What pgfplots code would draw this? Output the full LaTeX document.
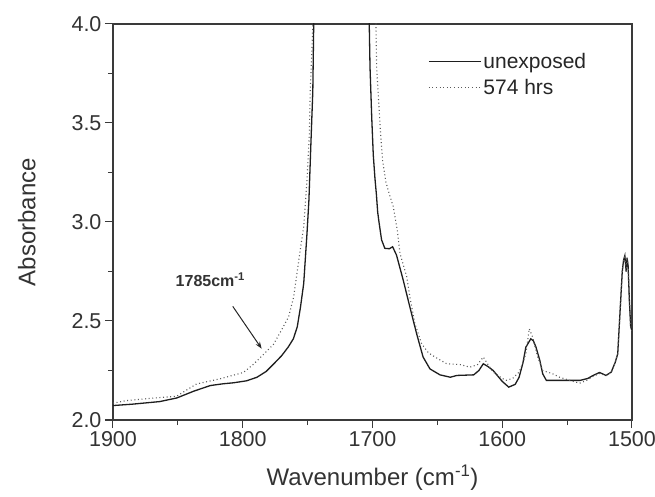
\documentclass[border=0pt]{standalone}
\usepackage{pgfplots}
\pgfplotsset{compat=1.18}
\usepackage{fontspec}
\setmainfont{Liberation Sans}
\usetikzlibrary{arrows.meta}

\definecolor{inkline}{HTML}{1E1E1E}
\definecolor{dotline}{HTML}{5A5A5A}
\definecolor{axisgray}{HTML}{3A3A3A}

\begin{document}
\begin{tikzpicture}
\begin{axis}[
  at={(0pt,0pt)}, anchor=south west,
  scale only axis, width=519pt, height=396pt,
  x dir=reverse,
  xmin=1500, xmax=1900, ymin=2, ymax=4,
  xtick={1500,1600,1700,1800,1900},
  ytick={2,2.5,3,3.5,4},
  minor x tick num=1, minor y tick num=1,
  tick align=outside, xtick pos=bottom, ytick pos=left,
  major tick length=8pt, minor tick length=5pt,
  axis line style={axisgray, line width=1.2pt},
  every tick/.style={axisgray, line width=1pt},
  clip=true,
  /pgf/number format/assume math mode=true,
  tick label style={font=\fontsize{21.5}{25}\selectfont, text=black!80},
  xticklabel style={/pgf/number format/1000 sep={}},
  yticklabel style={/pgf/number format/.cd, fixed, fixed zerofill, precision=1},
  xlabel={Wavenumber (cm\textsuperscript{-1})},
  ylabel={Absorbance},
  label style={font=\fontsize{24}{28}\selectfont, text=black!80},
  xlabel style={at={(axis description cs:0.5,-0.146)}, anchor=center},
  ylabel style={at={(axis description cs:-0.166,0.5)}, anchor=center},
  legend style={at={(0.601,0.937)}, anchor=north west, draw=none, fill=none,
    font=\fontsize{21}{23}\selectfont, text=black!85, row sep=5.5pt,
    /tikz/every even column/.append style={column sep=3pt}},
  legend cell align=left,
  legend image code/.code={\draw[#1] (0pt,0pt) -- (52pt,0pt);},
]

% unexposed film
\addplot[inkline, line width=1.3pt] coordinates {
(1900,2.073) (1885,2.080) (1864,2.093) (1851,2.111) (1838,2.145)
(1825,2.174) (1815,2.183) (1807,2.188) (1797,2.198) (1789,2.216)
(1782,2.245) (1776,2.284) (1770,2.325) (1765,2.368) (1761,2.41)
(1758,2.47) (1755.5,2.57) (1753,2.69) (1750.5,2.94) (1749,3.11)
(1747.5,3.39) (1746,3.66) (1745.3,4.0) (1745,4.3) (1703,4.3)
(1702.5,4.0) (1701.9,3.78) (1700.6,3.53) (1699.4,3.34) (1698.1,3.22)
(1697,3.14) (1696,3.05) (1695,3.0) (1693,2.91) (1690.5,2.867)
(1687,2.865) (1684.5,2.875) (1681.5,2.833) (1676.3,2.706) (1671.2,2.571)
(1666,2.436) (1661,2.318) (1655.7,2.258) (1648,2.228) (1640,2.216)
(1635,2.225) (1622,2.228) (1618,2.25) (1614.6,2.284) (1611,2.27)
(1607,2.25) (1600,2.195) (1595,2.166) (1590,2.18) (1587,2.216)
(1584,2.29) (1581.8,2.368) (1578,2.41) (1576,2.40) (1574,2.368)
(1571,2.30) (1568.8,2.233) (1566,2.2) (1555,2.2) (1540,2.2)
(1534,2.21) (1530,2.225) (1525,2.24) (1520,2.225) (1516,2.242)
(1513,2.29) (1511,2.334) (1509,2.571) (1507.5,2.75) (1506.5,2.807)
(1505.5,2.83) (1504.5,2.75) (1503.8,2.82) (1503,2.78) (1502,2.6)
(1501,2.47) (1500,2.45)
};
\addlegendentry{unexposed}

% film after 574 hours of exposure
\addplot[dotline, line width=1.1pt, dash pattern=on 1pt off 2.6pt] coordinates {
(1900,2.085) (1889.7,2.098) (1870,2.11) (1851,2.12) (1835.6,2.182)
(1817.5,2.208) (1799.5,2.24) (1792,2.28) (1784,2.331) (1776.3,2.382)
(1771,2.444) (1764.7,2.52) (1760.8,2.62) (1755.7,2.858) (1753,2.976)
(1750.5,3.21) (1748.7,3.44) (1748,3.66) (1746.5,3.9) (1746,4.0)
(1746,4.3) (1697.5,4.3) (1697.3,3.98) (1696.8,3.78) (1694.8,3.56)
(1693.7,3.44) (1692.2,3.31) (1689.6,3.2) (1687,3.14) (1684,3.078)
(1680.9,2.959) (1678.8,2.841) (1673.6,2.723) (1671.2,2.622) (1667.3,2.486)
(1662.1,2.385) (1657,2.34) (1651.8,2.318) (1642.8,2.284) (1632.6,2.28)
(1624.9,2.267) (1619,2.28) (1614.6,2.318) (1611,2.28) (1606.9,2.242)
(1600,2.21) (1597,2.2) (1592,2.21) (1587,2.242) (1584,2.29)
(1581.8,2.334) (1579.2,2.461) (1576.6,2.419) (1572.7,2.318) (1568.8,2.25)
(1561,2.233) (1555.8,2.216) (1548,2.2) (1540.3,2.186) (1535,2.2)
(1530,2.22) (1525,2.235) (1520,2.225) (1516,2.24) (1513,2.29)
(1511,2.334) (1509,2.571) (1507.5,2.75) (1506.5,2.807) (1505.5,2.83)
(1504.5,2.75) (1503.8,2.82) (1503,2.78) (1502,2.6) (1501,2.47)
(1500,2.45)
};
\addlegendentry{574 hrs}

% carbonyl band marker
\node[font=\bfseries\fontsize{16}{18}\selectfont, text=black!80]
  at (axis cs:1825,2.71) {1785cm\textsuperscript{-1}};
\draw[-{Stealth[length=7pt,width=5pt]}, line width=1pt, black!85]
  (axis cs:1807.7,2.574) -- (axis cs:1785.4,2.36);
\end{axis}
\pgfresetboundingbox
\path (-113pt,-77pt) rectangle (542pt,420pt);
\end{tikzpicture}
\end{document}
